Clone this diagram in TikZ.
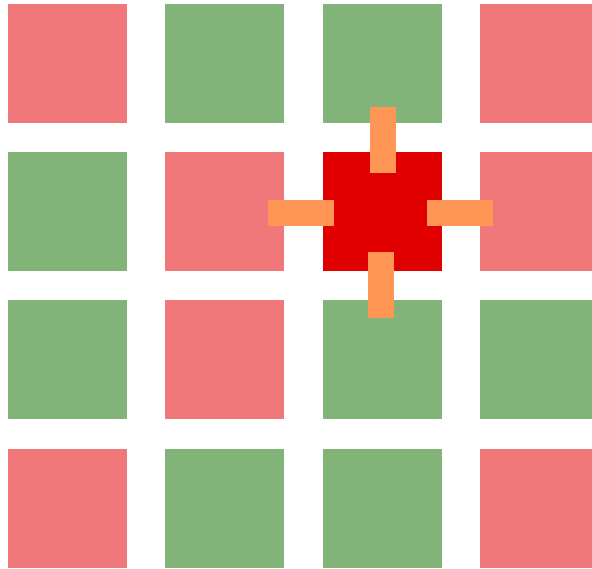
\documentclass[tikz,border=0pt]{standalone}
\definecolor{cpink}{RGB}{240,120,122}
\definecolor{cgreen}{RGB}{130,180,122}
\definecolor{cred}{RGB}{224,0,0}
\definecolor{corange}{RGB}{255,150,85}
\tikzset{
  pinksq/.style={fill=cpink},
  greensq/.style={fill=cgreen},
  redsq/.style={fill=cred},
  bar/.style={fill=corange}
}
\begin{document}
\begin{tikzpicture}[x=1pt,y=-1pt]
\useasboundingbox (0,0) rectangle (592,569);
\def\sz{119}
% row 1
\fill[pinksq]  (8,4)   rectangle ++(\sz,\sz);
\fill[greensq] (165,4) rectangle ++(\sz,\sz);
\fill[greensq] (323,4) rectangle ++(\sz,\sz);
\fill[pinksq]  (480,4) rectangle ++(\sz,\sz);
% row 2
\fill[greensq] (8,152)   rectangle ++(\sz,\sz);
\fill[pinksq]  (165,152) rectangle ++(\sz,\sz);
\fill[redsq]   (323,152) rectangle ++(\sz,\sz);
\fill[pinksq]  (480,152) rectangle ++(\sz,\sz);
% row 3
\fill[greensq] (8,300)   rectangle ++(\sz,\sz);
\fill[pinksq]  (165,300) rectangle ++(\sz,\sz);
\fill[greensq] (323,300) rectangle ++(\sz,\sz);
\fill[greensq] (480,300) rectangle ++(\sz,\sz);
% row 4
\fill[pinksq]  (8,449)   rectangle ++(\sz,\sz);
\fill[greensq] (165,449) rectangle ++(\sz,\sz);
\fill[greensq] (323,449) rectangle ++(\sz,\sz);
\fill[pinksq]  (480,449) rectangle ++(\sz,\sz);
% orange bars
\fill[bar] (370,107) rectangle (396,173);
\fill[bar] (268,200) rectangle (334,226);
\fill[bar] (427,200) rectangle (493,226);
\fill[bar] (368,252) rectangle (394,318);
\end{tikzpicture}
\end{document}
